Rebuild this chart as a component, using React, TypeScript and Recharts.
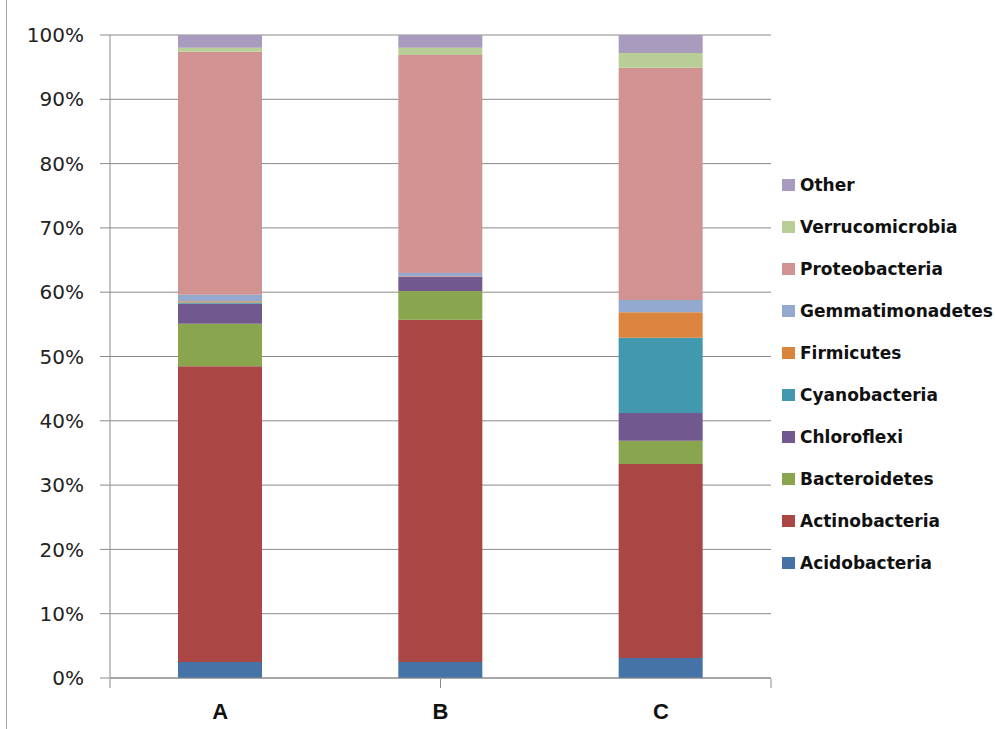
import { BarChart, Bar, XAxis, YAxis, CartesianGrid, Legend } from "recharts";

const samples = ["A", "B", "C"];

// relative abundance (%) per phylum, one value per sample
const acidobacteria = [2.5, 2.5, 3.1];
const actinobacteria = [46.0, 53.2, 30.2];
const bacteroidetes = [6.6, 4.5, 3.6];
const chloroflexi = [3.1, 2.2, 4.3];
const cyanobacteria = [0.2, 0.0, 11.7];
const firmicutes = [0.2, 0.1, 4.0];
const gemmatimonadetes = [1.0, 0.5, 1.9];
const proteobacteria = [37.8, 33.9, 36.1];
const verrucomicrobia = [0.6, 1.1, 2.3];
const other = [2.0, 2.0, 2.8];

const yTicks = [0, 10, 20, 30, 40, 50, 60, 70, 80, 90, 100];
const edgeTicks = [0, 1, 2, 3];

const series = [
  { key: "Acidobacteria", values: acidobacteria, color: "#4572A7" },
  { key: "Actinobacteria", values: actinobacteria, color: "#AA4643" },
  { key: "Bacteroidetes", values: bacteroidetes, color: "#89A54E" },
  { key: "Chloroflexi", values: chloroflexi, color: "#71588F" },
  { key: "Cyanobacteria", values: cyanobacteria, color: "#4198AF" },
  { key: "Firmicutes", values: firmicutes, color: "#DB843D" },
  { key: "Gemmatimonadetes", values: gemmatimonadetes, color: "#93A9CF" },
  { key: "Proteobacteria", values: proteobacteria, color: "#D19392" },
  { key: "Verrucomicrobia", values: verrucomicrobia, color: "#B9CD96" },
  { key: "Other", values: other, color: "#A99BBD" },
];

const data = samples.map((name, i) => {
  const row: any = { name };
  series.forEach((s) => {
    row[s.key] = s.values[i];
  });
  return row;
});

const axisGray = "#8a8a8a";

// top of the stack first, like the bars read from top to bottom
function PhylaLegend() {
  const items = [...series].reverse();
  return (
    <div>
      {items.map((item) => (
        <div
          key={item.key}
          style={{
            height: 42,
            display: "flex",
            alignItems: "center",
            whiteSpace: "nowrap",
          }}
        >
          <span
            style={{
              width: 13,
              height: 12,
              background: item.color,
              marginRight: 5,
              display: "inline-block",
            }}
          />
          <span
            style={{
              fontFamily: "DejaVu Sans",
              fontWeight: "bold",
              fontSize: 17,
              color: "#111",
            }}
          >
            {item.key}
          </span>
        </div>
      ))}
    </div>
  );
}

export default function App() {
  return (
    <div
      style={{
        position: "absolute",
        left: 0,
        top: 0,
        width: 995,
        height: 729,
        background: "#fff",
        overflow: "hidden",
      }}
    >
      <div
        style={{
          position: "absolute",
          left: 6,
          top: 0,
          width: 1,
          height: 729,
          background: "#a8a8a8",
        }}
      />
      <BarChart
        width={995}
        height={729}
        data={data}
        margin={{ top: 35, right: 224, bottom: 0, left: 0 }}
        barSize={84}
      >
        <CartesianGrid vertical={false} stroke={axisGray} strokeOpacity={1} />
        {/* thin axis carrying the line and the sample labels */}
        <XAxis
          dataKey="name"
          height={1}
          tickLine={false}
          tickSize={8}
          tickMargin={17}
          axisLine={{ stroke: axisGray }}
          tick={{
            fill: "#111",
            fontFamily: "Liberation Sans",
            fontWeight: "bold",
            fontSize: 22,
          }}
        />
        {/* tick marks between the sample columns */}
        <XAxis
          xAxisId="edges"
          type="number"
          domain={[0, 3]}
          ticks={edgeTicks}
          allowDataOverflow
          tick={() => <g />}
          tickSize={9}
          tickLine={{ stroke: axisGray }}
          axisLine={false}
          height={50}
        />
        <YAxis
          width={110}
          domain={[0, 100]}
          ticks={yTicks}
          tickFormatter={(v) => `${v}%`}
          tickSize={10}
          tickMargin={16}
          tickLine={{ stroke: axisGray }}
          axisLine={{ stroke: axisGray }}
          tick={{ fill: "#222", fontFamily: "DejaVu Sans", fontSize: 20 }}
        />
        <Legend
          layout="vertical"
          align="center"
          verticalAlign="middle"
          content={<PhylaLegend />}
          wrapperStyle={{ left: 782, top: 164, width: 240 }}
        />
        {series.map((s) => (
          <Bar
            key={s.key}
            dataKey={s.key}
            stackId="phyla"
            fill={s.color}
            isAnimationActive={false}
          />
        ))}
      </BarChart>
    </div>
  );
}
